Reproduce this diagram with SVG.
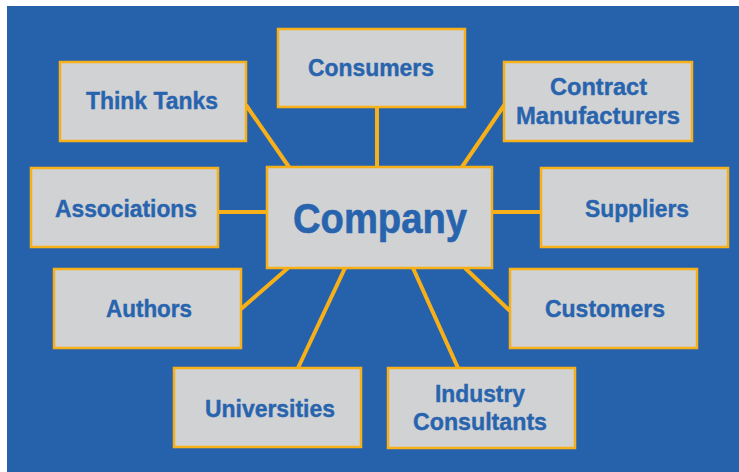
<svg xmlns="http://www.w3.org/2000/svg" width="739" height="472" viewBox="0 0 739 472">
<style>
.box{fill:#D1D2D4;stroke:#F8B019;stroke-width:2.5}
.lbl{font-family:"Liberation Sans",Arial,sans-serif;font-weight:bold;font-size:24px;fill:#2864AE;stroke:#2864AE;stroke-width:0.4;text-anchor:middle}
.big{font-size:42px;stroke-width:0.6}
.conn line{stroke:#F8B019;stroke-width:4}
</style>
<rect x="0" y="0" width="739" height="472" fill="#FFFFFF"/>
<rect x="7" y="6" width="732" height="466" fill="#2662AC"/>
<g id="connectors" class="conn">
<line x1="246" y1="105" x2="289" y2="167"/>
<line x1="377" y1="107" x2="377" y2="167"/>
<line x1="505" y1="104" x2="462" y2="167"/>
<line x1="218" y1="212" x2="267" y2="212"/>
<line x1="492" y1="212" x2="541" y2="212"/>
<line x1="241" y1="309" x2="288" y2="268"/>
<line x1="510" y1="311" x2="465" y2="268"/>
<line x1="345" y1="268" x2="298" y2="368"/>
<line x1="413" y1="268" x2="458" y2="368"/>
</g>
<g id="company"><rect class="box" x="267" y="167" width="225" height="101"/><text class="lbl big" x="380" y="233" textLength="174" lengthAdjust="spacingAndGlyphs">Company</text></g>
<g id="think-tanks"><rect class="box" x="60" y="62" width="186" height="79"/><text class="lbl" x="152" y="109" textLength="132" lengthAdjust="spacingAndGlyphs">Think Tanks</text></g>
<g id="consumers"><rect class="box" x="278" y="29" width="187" height="78"/><text class="lbl" x="371" y="76" textLength="126" lengthAdjust="spacingAndGlyphs">Consumers</text></g>
<g id="contract-manufacturers"><rect class="box" x="504" y="62" width="188" height="79"/><text class="lbl" x="598.5" y="95" textLength="97" lengthAdjust="spacingAndGlyphs">Contract</text><text class="lbl" x="598" y="124" textLength="164" lengthAdjust="spacingAndGlyphs">Manufacturers</text></g>
<g id="associations"><rect class="box" x="31" y="168" width="187" height="79"/><text class="lbl" x="126" y="217" textLength="142" lengthAdjust="spacingAndGlyphs">Associations</text></g>
<g id="suppliers"><rect class="box" x="541" y="168" width="187" height="79"/><text class="lbl" x="637" y="217" textLength="104" lengthAdjust="spacingAndGlyphs">Suppliers</text></g>
<g id="authors"><rect class="box" x="54" y="269" width="187" height="79"/><text class="lbl" x="149" y="317" textLength="86" lengthAdjust="spacingAndGlyphs">Authors</text></g>
<g id="customers"><rect class="box" x="510" y="269" width="187" height="79"/><text class="lbl" x="605" y="317" textLength="120" lengthAdjust="spacingAndGlyphs">Customers</text></g>
<g id="universities"><rect class="box" x="174" y="368" width="187" height="79"/><text class="lbl" x="270" y="417" textLength="130" lengthAdjust="spacingAndGlyphs">Universities</text></g>
<g id="industry-consultants"><rect class="box" x="388" y="368" width="187" height="80"/><text class="lbl" x="480" y="402" textLength="90" lengthAdjust="spacingAndGlyphs">Industry</text><text class="lbl" x="480" y="430" textLength="134" lengthAdjust="spacingAndGlyphs">Consultants</text></g>
</svg>
